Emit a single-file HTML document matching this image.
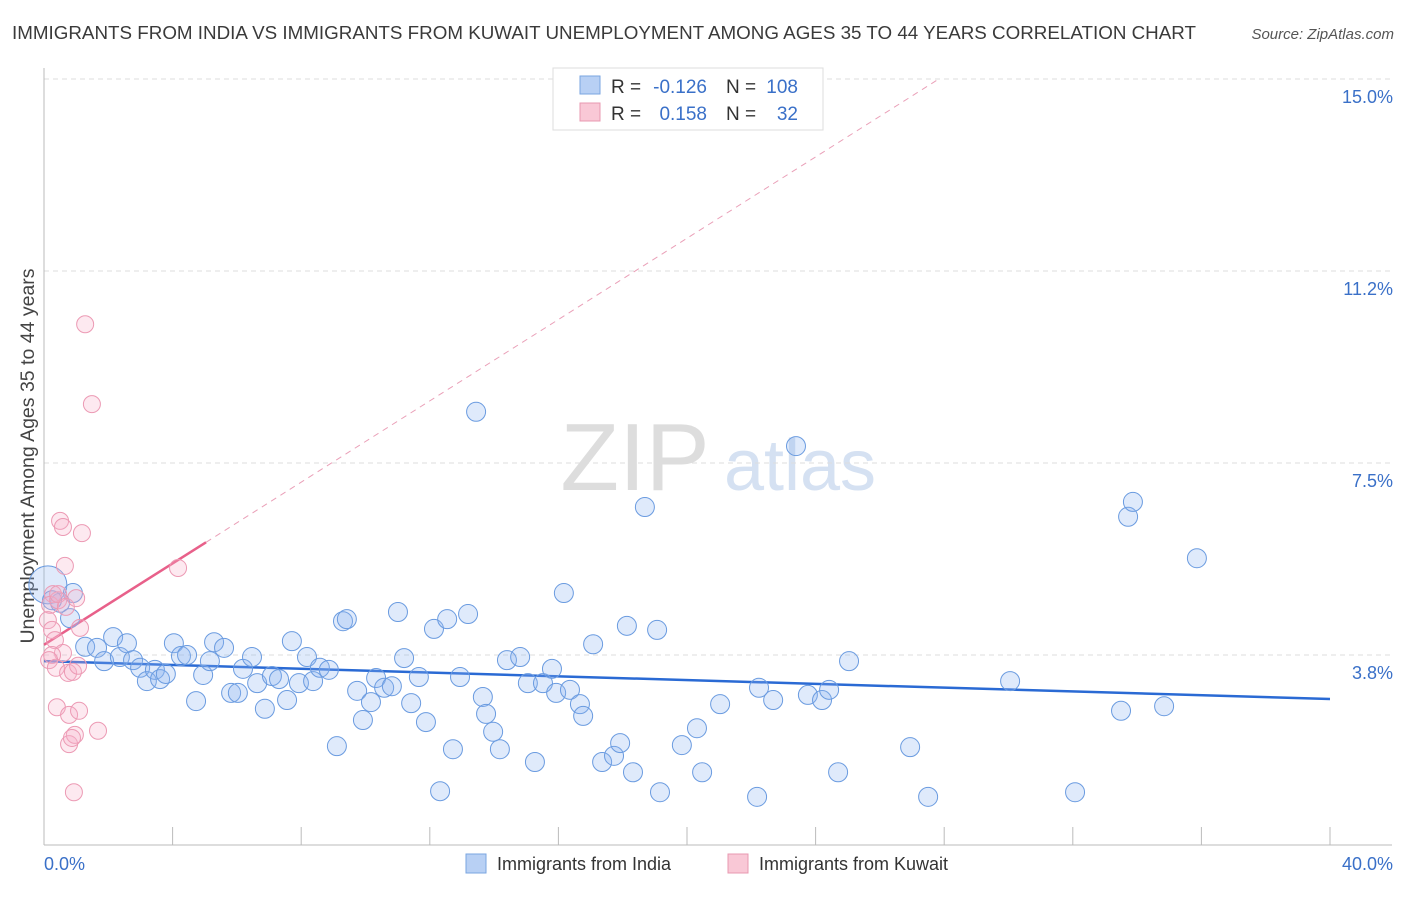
<!DOCTYPE html>
<html><head><meta charset="utf-8"><style>
body{margin:0;background:#fff;font-family:"Liberation Sans",sans-serif;}
svg text{font-family:"Liberation Sans",sans-serif;}
</style></head><body>
<svg width="1406" height="892" xmlns="http://www.w3.org/2000/svg" id="chart">
<text x="12" y="39" font-size="18" fill="#3a3a3a" textLength="1184" lengthAdjust="spacingAndGlyphs">IMMIGRANTS FROM INDIA VS IMMIGRANTS FROM KUWAIT UNEMPLOYMENT AMONG AGES 35 TO 44 YEARS CORRELATION CHART</text>
<text x="1394" y="39" font-size="15" fill="#555" font-style="italic" text-anchor="end">Source: ZipAtlas.com</text>
<text transform="translate(34,456) rotate(-90)" font-size="19.5" fill="#444" text-anchor="middle">Unemployment Among Ages 35 to 44 years</text>
<g>
<text x="635" y="490" font-size="96" fill="#ddd" font-family="Liberation Serif" text-anchor="middle">ZIP</text>
<text x="800" y="490" font-size="72" fill="#d5e1f2" text-anchor="middle">atlas</text>
</g>
<g id="grid"></g><g id="axes"></g><g id="lines"></g><g id="pts"></g>
<g>
<rect x="553" y="68" width="270" height="62" fill="#fff" stroke="#ddd"/>
<rect x="580" y="76" width="20" height="18" fill="#b8d0f4" stroke="#7aa6e0"/>
<rect x="580" y="103" width="20" height="18" fill="#f9c8d6" stroke="#e898b0"/>
<text x="611" y="93" font-size="19" fill="#333">R =</text>
<text x="707" y="93" font-size="19" fill="#3a70c8" text-anchor="end">-0.126</text>
<text x="726" y="93" font-size="19" fill="#333">N =</text>
<text x="798" y="93" font-size="19" fill="#3a70c8" text-anchor="end">108</text>
<text x="611" y="120" font-size="19" fill="#333">R =</text>
<text x="707" y="120" font-size="19" fill="#3a70c8" text-anchor="end">0.158</text>
<text x="726" y="120" font-size="19" fill="#333">N =</text>
<text x="798" y="120" font-size="19" fill="#3a70c8" text-anchor="end">32</text>
</g>
<g>
<rect x="466" y="854" width="20" height="19" fill="#b8d0f4" stroke="#7aa6e0"/>
<text x="497" y="870" font-size="18" fill="#333">Immigrants from India</text>
<rect x="728" y="854" width="20" height="19" fill="#f9c8d6" stroke="#e898b0"/>
<text x="759" y="870" font-size="18" fill="#333">Immigrants from Kuwait</text>
</g>
</svg>
<script>
const yTicks=[15.0,11.25,7.5,3.75];
const yTickLabels=["15.0%","11.2%","7.5%","3.8%"];
const xTicks=[0,4,8,12,16,20,24,28,32,36,40];
const indiaX=[0.12,0.90,0.50,0.25,0.81,1.28,1.65,2.15,1.87,2.36,2.58,2.77,2.99,3.20,3.45,3.61,3.79,4.04,4.26,4.45,4.73,4.95,5.16,5.29,5.60,5.82,6.03,6.19,6.47,6.63,6.87,7.09,7.31,7.56,7.71,7.93,8.18,8.37,8.58,8.86,9.11,9.30,9.42,9.74,9.92,10.17,10.33,10.58,10.82,11.01,11.20,11.42,11.66,11.88,12.13,12.32,12.54,12.72,12.94,13.19,13.44,13.65,13.75,13.97,14.18,14.40,14.81,15.05,15.27,15.52,15.80,15.93,16.17,16.36,16.67,16.77,17.08,17.36,17.73,17.92,18.13,18.32,18.69,19.07,19.16,19.84,20.31,20.47,21.03,22.18,22.24,22.68,23.39,23.76,24.20,24.42,24.70,25.04,26.94,27.50,30.05,32.07,33.50,33.72,33.87,34.84,35.86];
const indiaY=[5.12,4.96,4.77,4.82,4.47,3.91,3.89,4.10,3.63,3.71,3.98,3.65,3.50,3.24,3.46,3.28,3.38,3.98,3.73,3.75,2.85,3.36,3.63,4.00,3.89,3.01,3.01,3.48,3.71,3.20,2.70,3.34,3.28,2.87,4.02,3.20,3.71,3.24,3.50,3.46,1.97,4.41,4.45,3.05,2.48,2.83,3.30,3.11,3.14,4.59,3.69,2.81,3.32,2.44,4.26,1.09,4.45,1.91,3.32,4.55,8.50,2.93,2.60,2.25,1.91,3.65,3.71,3.20,1.66,3.20,3.48,3.01,4.96,3.07,2.79,2.56,3.96,1.66,1.78,2.03,4.32,1.46,6.64,4.24,1.07,1.99,2.32,1.46,2.79,0.98,3.11,2.87,7.83,2.97,2.87,3.07,1.46,3.63,1.95,0.98,3.24,1.07,2.66,6.45,6.74,2.75,5.64];
const kuwaitX=[1.28,1.49,0.50,0.59,1.18,0.65,4.17,0.28,0.19,0.44,0.12,0.25,1.12,0.34,0.59,0.25,0.16,0.37,0.75,0.90,1.06,0.40,0.78,1.09,1.68,0.78,0.96,0.87,0.93,0.44,0.68,1.00];
const kuwaitY=[10.21,8.65,6.37,6.25,6.13,5.49,5.45,4.94,4.73,4.82,4.43,4.24,4.28,4.04,3.79,3.75,3.65,3.50,3.40,3.42,3.54,2.73,2.58,2.66,2.27,2.01,2.19,2.13,1.07,4.94,4.69,4.86];
const indiaTrend=[3.63,2.89];
const kuwaitTrend=[3.95,0.397];
const NS="http://www.w3.org/2000/svg";
const X=v=>44+v*32.15, Y=v=>847-v*51.2;
function mk(t,a,p){const e=document.createElementNS(NS,t);for(const k in a)e.setAttribute(k,a[k]);document.getElementById(p).appendChild(e);return e;}
yTicks.forEach((t,i)=>{
 const g=mk('line',{x1:44,x2:1392,y1:Y(t),y2:Y(t),stroke:'#ddd','stroke-dasharray':'5,4'},'grid');
 
 
 const l=mk('text',{x:1393,y:Y(t)+24,'font-size':18,fill:'#3a70c8','text-anchor':'end'},'grid');
 
 
 l.textContent=yTickLabels[i];
});
const ax=mk('line',{x1:44,x2:1392,y1:845,y2:845,stroke:'#bbb'},'axes');


const ay=mk('line',{x1:44,x2:44,y1:68,y2:845,stroke:'#bbb'},'axes');


xTicks.forEach(t=>{const e=mk('line',{x1:X(t),x2:X(t),y1:827,y2:845,stroke:'#bbb'},'axes');
 
 });
const t0=mk('text',{x:44,y:870,'font-size':18,fill:'#3a70c8'},'axes');t0.textContent='0.0%';


const t1=mk('text',{x:1393,y:870,'font-size':18,fill:'#3a70c8','text-anchor':'end'},'axes');t1.textContent='40.0%';


indiaX.forEach((x,i)=>{const c=mk('circle',{cx:X(x),cy:Y(indiaY[i]),r:i===0?19:9.5,fill:'rgba(140,180,240,0.28)',stroke:'#6a9be0','stroke-width':1},'pts');
 
 });
kuwaitX.forEach((x,i)=>{const c=mk('circle',{cx:X(x),cy:Y(kuwaitY[i]),r:8.5,fill:'rgba(248,175,200,0.28)',stroke:'#ec9ab4','stroke-width':1},'pts');
 
 });
const lb=mk('line',{x1:X(0),y1:Y(indiaTrend[0]),x2:X(40),y2:Y(indiaTrend[1]),stroke:'#2a6ad4','stroke-width':2.5},'lines');


const xe=(15-kuwaitTrend[0])/kuwaitTrend[1];
const ld=mk('line',{x1:X(5.04),y1:Y(kuwaitTrend[0]+kuwaitTrend[1]*5.04),x2:X(xe),y2:Y(15),stroke:'#eaa0b8','stroke-width':1,'stroke-dasharray':'6,5'},'lines');


const lp=mk('line',{x1:X(0),y1:Y(kuwaitTrend[0]),x2:X(5.04),y2:Y(kuwaitTrend[0]+kuwaitTrend[1]*5.04),stroke:'#e8608a','stroke-width':2.5},'lines');


</script>
</body></html>
